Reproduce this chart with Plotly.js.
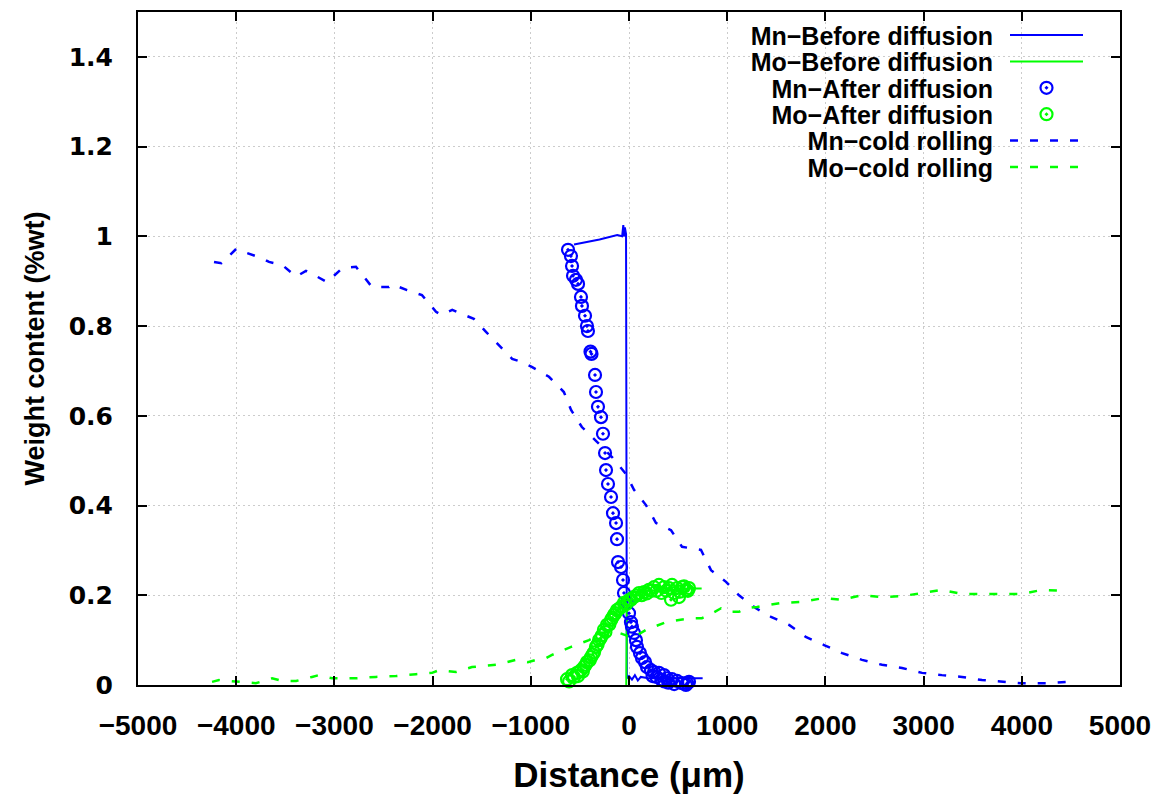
<!DOCTYPE html>
<html>
<head>
<meta charset="utf-8">
<script src="https://cdn.plot.ly/plotly-3.0.1.min.js"></script>
<style>
  html, body { margin: 0; padding: 0; background: #ffffff; }
  #chart { width: 1160px; height: 794px; }
</style>
</head>
<body>
<div id="chart"></div>
<script>
// ---------------- data ----------------
var legendNames = ["Mn\u2212Before diffusion", "Mo\u2212Before diffusion", "Mn\u2212After diffusion",
                   "Mo\u2212After diffusion", "Mn\u2212cold rolling", "Mo\u2212cold rolling"];

var mnBeforeX = [-560, -300, -120, -70, -58, -50, -42, -30, -22, 0, 30, 60, 90, 120, 200, 300, 500, 750];
var mnBeforeY = [0.982, 0.993, 1.003, 1.0, 1.025, 1.0, 1.02, 1.005, 0.015, 0.02, 0.012, 0.022, 0.01, 0.018, 0.015, 0.015, 0.015, 0.015];

var moBeforeX = [-28, -20, 0, 200, 400, 600, 740];
var moBeforeY = [0.0, 0.2, 0.205, 0.21, 0.212, 0.215, 0.215];

var mnAfterX = [-621, -591, -580, -570, -540, -519, -489, -479, -448, -428, -418, -392, -382, -346, -336,
                -316, -285, -265, -244, -234, -214, -183, -163, -132, -122, -112, -81, -61, -51, -20,
                0, 20, 30, 51, 71, 81, 112, 132, 163, 183, 224, 240, 255, 280, 305, 330, 356, 360, 387,
                400, 420, 438, 460, 470, 489, 510, 520, 540, 560, 580, 591, 600, 611];
var mnAfterY = [0.97, 0.956, 0.934, 0.912, 0.903, 0.894, 0.865, 0.845, 0.823, 0.8, 0.789, 0.743, 0.738, 0.691, 0.653,
                0.62, 0.597, 0.56, 0.517, 0.479, 0.448, 0.419, 0.383, 0.361, 0.325, 0.274, 0.263, 0.234, 0.205, 0.183,
                0.16, 0.14, 0.13, 0.116, 0.1, 0.085, 0.071, 0.06, 0.051, 0.04, 0.033, 0.02, 0.029, 0.018, 0.027, 0.012, 0.022, 0.008, 0.015,
                0.005, -0.004, 0.013, 0.002, -0.006, 0.009, -0.002, -0.003, 0.004, -0.008, 0.0, 0.004, -0.002, 0.007];

var moAfterX = [-631, -610, -580, -560, -529, -520, -489, -470, -458, -440, -428, -400, -387, -370, -356, -336, -320,
                -305, -290, -275, -255, -240, -224, -200, -183, -170, -153, -140, -122, -100, -81, -51, -30,
                0, 20, 51, 80, 102, 130, 153, 180, 204, 230, 255, 280, 305, 330, 356, 380, 407, 428, 438,
                460, 489, 509, 520, 540, 560, 580, 600, 611];
var moAfterY = [0.013, 0.008, 0.022, 0.018, 0.027, 0.02, 0.033, 0.03, 0.04, 0.045, 0.051, 0.055, 0.062, 0.068, 0.073, 0.085, 0.09,
                0.1, 0.104, 0.111, 0.123, 0.118, 0.134, 0.135, 0.145, 0.15, 0.156, 0.16, 0.167, 0.17, 0.174, 0.183, 0.18,
                0.189, 0.19, 0.196, 0.2, 0.205, 0.2, 0.207, 0.204, 0.212, 0.21, 0.218, 0.21, 0.223, 0.205, 0.218, 0.21, 0.216, 0.19, 0.223,
                0.205, 0.216, 0.196, 0.208, 0.218, 0.22, 0.212, 0.21, 0.216];

var mnColdX = [-4226, -4150, -4000, -3920, -3735, -3666, -3530, -3390, -3290, -3240, -3075, -2920, -2780, -2730,
               -2617, -2444, -2410, -2260, -2108, -1965, -1915, -1800, -1630, -1580, -1456, -1324, -1190, -1120,
               -990, -815, -663, -590, -480, -326, -173, -30, 51, 173, 275, 428, 540, 733, 835, 988, 1120, 1293,
               1446, 1630, 1800, 1986, 2170, 2373, 2577, 2780, 2984, 3187, 3391, 3595, 3798, 3992, 4246, 4450];
var mnColdY = [0.943, 0.94, 0.972, 0.965, 0.951, 0.943, 0.936, 0.91, 0.923, 0.918, 0.898, 0.929, 0.932, 0.918,
               0.887, 0.887, 0.893, 0.88, 0.869, 0.832, 0.825, 0.836, 0.82, 0.816, 0.787, 0.758, 0.727, 0.722,
               0.709, 0.687, 0.653, 0.613, 0.575, 0.542, 0.508, 0.47, 0.435, 0.401, 0.361, 0.345, 0.308, 0.301, 0.256, 0.23, 0.2, 0.171,
               0.152, 0.134, 0.107, 0.089, 0.071, 0.056, 0.045, 0.038, 0.027, 0.022, 0.018, 0.011, 0.007, 0.004, 0.004, 0.007];

var moColdX = [-4246, -4175, -3800, -3635, -3530, -3390, -3228, -3160, -3024, -2780, -2577, -2373, -2170, -2006,
               -1935, -1762, -1599, -1354, -1150, -1030, -947, -845, -784, -590, -407, -275, -150, 40, 173, 377, 509,
               642, 743, 815, 937, 1018, 1120, 1191, 1303, 1558, 1762, 1986, 2170, 2373, 2577, 2780, 2984, 3187,
               3391, 3595, 3798, 4002, 4206, 4409];
var moColdY = [0.007, 0.011, 0.004, 0.015, 0.009, 0.009, 0.018, 0.022, 0.015, 0.015, 0.018, 0.02, 0.024, 0.027,
               0.033, 0.029, 0.04, 0.045, 0.056, 0.051, 0.056, 0.06, 0.067, 0.085, 0.1, 0.116, 0.12, 0.105, 0.123, 0.14, 0.145,
               0.149, 0.149, 0.156, 0.171, 0.163, 0.163, 0.171, 0.174, 0.183, 0.185, 0.194, 0.19, 0.2, 0.196, 0.198, 0.205, 0.212,
               0.203, 0.203, 0.203, 0.203, 0.212, 0.21];

var xTickVals = [-5000, -4000, -3000, -2000, -1000, 0, 1000, 2000, 3000, 4000, 5000];
var yTickVals = [0, 0.2, 0.4, 0.6, 0.8, 1, 1.2, 1.4];

// ---------------- styles ----------------
var BLUE = '#0000ff', GREEN = '#00ff00';
var DASH = '8px,12px';

var traces = [
  {x: mnBeforeX, y: mnBeforeY, name: legendNames[0], mode: 'lines', line: {color: BLUE, width: 2}},
  {x: moBeforeX, y: moBeforeY, name: legendNames[1], mode: 'lines', line: {color: GREEN, width: 2}},
  {x: mnAfterX, y: mnAfterY, name: legendNames[2], mode: 'markers', cliponaxis: false,
   marker: {symbol: 'circle-open-dot', size: 12, color: BLUE, line: {color: BLUE, width: 2.2}}},
  {x: moAfterX, y: moAfterY, name: legendNames[3], mode: 'markers', cliponaxis: false,
   marker: {symbol: 'circle-open-dot', size: 12, color: GREEN, line: {color: GREEN, width: 2.2}}},
  {x: mnColdX, y: mnColdY, name: legendNames[4], mode: 'lines', line: {color: BLUE, width: 2.5, dash: DASH}},
  {x: moColdX, y: moColdY, name: legendNames[5], mode: 'lines', line: {color: GREEN, width: 2.5, dash: DASH}}
];

var axisCommon = {
  showline: true, linecolor: '#000000', linewidth: 2, mirror: 'ticks',
  ticks: 'inside', ticklen: 9, tickwidth: 2, tickcolor: '#000000',
  showgrid: true, gridcolor: '#cccccc', gridwidth: 1, griddash: '2px,3px',
  zeroline: false, fixedrange: true
};

var layout = {
  width: 1160, height: 794,
  paper_bgcolor: '#ffffff', plot_bgcolor: '#ffffff',
  margin: {l: 138, r: 40, t: 12, b: 109},
  showlegend: true,
  legend: {x: 1, xanchor: 'right', y: 1, yanchor: 'top', bgcolor: 'rgba(0,0,0,0)', borderwidth: 0,
           itemwidth: 73, itemclick: false,
           font: {family: 'Liberation Sans, Arial, sans-serif', size: 25, color: '#000000', weight: 'bold'}},
  xaxis: Object.assign({}, axisCommon, {
    range: [-5000, 5000], tickmode: 'array', tickvals: xTickVals,
    ticklabelstandoff: 14,
    tickfont: {family: 'Liberation Sans, Arial, sans-serif', size: 28, color: '#000000', weight: 'bold'},
    title: {text: 'Distance (\u03bcm)', standoff: 24,
            font: {family: 'Liberation Sans, Arial, sans-serif', size: 35, color: '#000000', weight: 'bold'}}
  }),
  yaxis: Object.assign({}, axisCommon, {
    range: [0, 1.5], tickmode: 'array', tickvals: yTickVals,
    ticklabelstandoff: 18,
    tickfont: {family: 'DejaVu Sans, sans-serif', size: 25, color: '#000000', weight: 'bold'},
    title: {text: 'Weight content (%wt)', standoff: 16,
            font: {family: 'Liberation Sans, Arial, sans-serif', size: 27, color: '#000000', weight: 'bold'}}
  })
};

function parseTranslate(s) {
  var m = /translate\(\s*([-\d.eE]+)[ ,]+([-\d.eE]+)\s*\)/.exec(s || '');
  return m ? {x: parseFloat(m[1]), y: parseFloat(m[2])} : {x: 0, y: 0};
}

// gnuplot-style legend: right-aligned text, sample to the right
function restyleLegend(gd) {
  var legend = gd.querySelector('g.legend');
  if (!legend) return;
  var sb = legend.querySelector('.scrollbox');
  if (sb) sb.removeAttribute('clip-path');
  var items = Array.prototype.slice.call(legend.querySelectorAll('g.traces'));
  if (!items.length) return;
  var maxW = 0;
  items.forEach(function (it) {
    var t = it.querySelector('text.legendtext');
    if (t) maxW = Math.max(maxW, t.getComputedTextLength());
  });
  var GAP = 17, ROW = 26.4;
  var first = parseTranslate(items[0].getAttribute('transform'));
  items.forEach(function (it, i) {
    var t = it.querySelector('text.legendtext');
    if (t) {
      t.setAttribute('text-anchor', 'end');
      t.style.textAnchor = 'end';
      t.setAttribute('x', maxW);
      Array.prototype.forEach.call(t.querySelectorAll('tspan'), function (ts) {
        if (ts.hasAttribute('x')) ts.setAttribute('x', maxW);
      });
    }
    var lay = it.querySelector('g.layers');
    if (lay) lay.setAttribute('transform', 'translate(' + (maxW + GAP - 5) + ',0)');
    it.setAttribute('transform', 'translate(' + first.x + ',' + (first.y + i * ROW) + ')');
  });
  var t0 = items[0].querySelector('text.legendtext').getBoundingClientRect();
  var p0 = items[0].querySelector('g.layers path');
  var cy = t0.top + t0.height / 2;
  if (p0) { var pb = p0.getBoundingClientRect(); cy = pb.top + pb.height / 2; }
  var lg = parseTranslate(legend.getAttribute('transform'));
  var dx = 993 - t0.right, dy = 35 - cy;
  legend.setAttribute('transform', 'translate(' + (lg.x + dx) + ',' + (lg.y + dy) + ')');
}

var gd = document.getElementById('chart');
Plotly.newPlot(gd, traces, layout, {displayModeBar: false, staticPlot: true}).then(function () {
  restyleLegend(gd);
});
</script>
</body>
</html>
